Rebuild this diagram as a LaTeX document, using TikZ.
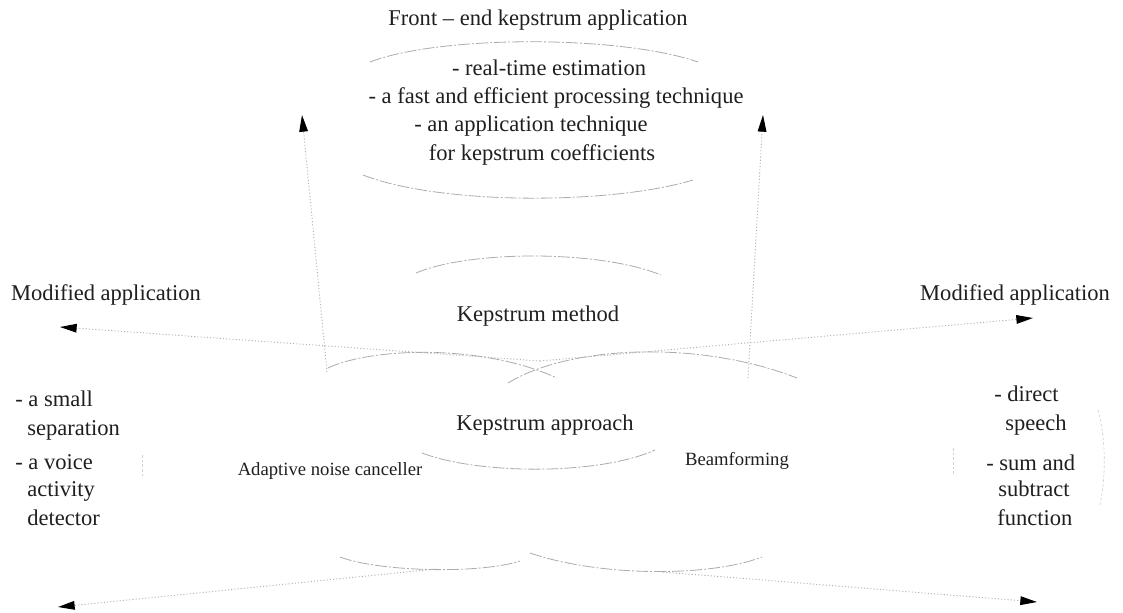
\documentclass[tikz,border=0pt]{standalone}
\usepackage{fontspec}
\setmainfont{Liberation Serif}
\usetikzlibrary{arrows.meta}
\begin{document}
\begin{tikzpicture}[x=0.75pt,y=-0.75pt,
  txt/.style={inner sep=0pt, text=black!88, font=\fontsize{16.9}{20}\selectfont, text height=1.5ex, text depth=.25ex},
  sml/.style={txt, font=\fontsize{14}{17}\selectfont},
  arcline/.style={draw=gray!65, line width=0.6pt, dash pattern=on 9pt off 1.5pt on 1.5pt off 1.5pt},
  dotline/.style={draw=gray!60, line width=0.7pt, dash pattern=on 0.8pt off 1.6pt, -{Triangle[length=12.5pt,width=6.5pt,color=black]}},
  faint/.style={draw=gray!35, line width=0.5pt, dash pattern=on 2pt off 1.5pt}]
\useasboundingbox (0,0) rectangle (1123,612);
\fill[white] (0,0) rectangle (1123,612);

% top block
\node[txt] (title) at (538,22) {Front – end kepstrum application};
\node[txt] (t1) at (549,72) {- real-time estimation};
\node[txt] (t2) at (556,100) {- a fast and efficient processing technique};
\node[txt] (t3) at (531,128) {- an application technique};
\node[txt] (t4) at (542,157) {for kepstrum coefficients};

% middle
\node[txt] (kmethod) at (538,318) {Kepstrum method};
\node[txt] (kapproach) at (545,427) {Kepstrum approach};
\node[sml] (anc) at (330,472) {Adaptive noise canceller};
\node[sml] (beam) at (737,462) {Beamforming};

\node[txt] (modL) at (106,297) {Modified application};
\node[txt] (modR) at (1015,297) {Modified application};

% left block
\node[txt, anchor=west] (l1) at (15,403) {- a small};
\node[txt, anchor=west] (l2) at (27,432) {separation};
\node[txt, anchor=west] (l3) at (15,466) {- a voice};
\node[txt, anchor=west] (l4) at (27,493) {activity};
\node[txt, anchor=west] (l5) at (27,522) {detector};

% right block
\node[txt, anchor=west] (r1) at (994,398) {- direct};
\node[txt, anchor=west] (r2) at (1005,427) {speech};
\node[txt, anchor=west] (r3) at (986,467) {- sum and};
\node[txt, anchor=west] (r4) at (998,493) {subtract};
\node[txt, anchor=west] (r5) at (997,522) {function};

% lens arcs
\draw[arcline] (370,62) .. controls (440,35) and (620,35) .. (698,62);
\draw[arcline] (363,175) .. controls (440,205) and (610,205) .. (693,180);
\draw[arcline] (416,273) .. controls (470,250) and (600,250) .. (661,275);
\draw[arcline] (328,368) .. controls (370,348) and (480,343) .. (557,378);
\draw[arcline] (508,383) .. controls (570,345) and (700,340) .. (797,378);
\draw[arcline] (422,453) .. controls (480,475) and (600,475) .. (655,450);
\draw[arcline] (340,557) .. controls (380,572) and (480,574) .. (520,561);
\draw[arcline] (530,553) .. controls (600,577) and (710,577) .. (762,557);

% faint marks
\draw[faint] (142,455) -- (142,477);
\draw[faint] (953,448) -- (953,475);
\draw[faint] (1098,410) .. controls (1106,440) and (1106,475) .. (1100,505);

% connector end points
\coordinate (upLs) at (327,372);
\coordinate (upLe) at (302,115);
\coordinate (upRs) at (748,378);
\coordinate (upRe) at (763,115);
\coordinate (midS) at (540,361);
\coordinate (midL) at (60,327);
\coordinate (midR) at (1033,318);
\coordinate (botLs) at (436,569);
\coordinate (botL) at (58,607);
\coordinate (botRs) at (663,572);
\coordinate (botR) at (1037,602);

\draw[dotline] (upLs) -- (upLe);
\draw[dotline] (upRs) -- (upRe);
\draw[dotline] (midS) -- (midL);
\draw[dotline] (midS) -- (midR);
\draw[dotline] (botLs) -- (botL);
\draw[dotline] (botRs) -- (botR);
\end{tikzpicture}
\end{document}
